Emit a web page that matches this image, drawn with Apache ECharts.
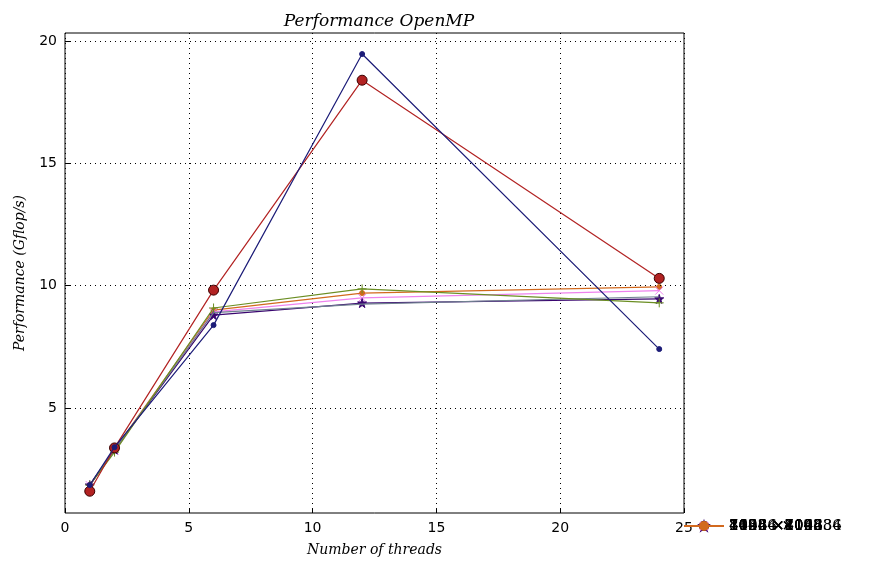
<!DOCTYPE html>
<html><head><meta charset="utf-8">
<script src="https://cdn.jsdelivr.net/npm/echarts@6/dist/echarts.min.js"></script>
<style>html,body{margin:0;background:#fff}#c{width:894px;height:570px}</style>
</head><body><div id="c"></div>
<script>
var threads = [1, 2, 6, 12, 24];
var names = ['1024 ×1024', '2048 ×2048', '4096 ×4096', '7168 ×7168', '8192 ×8192', '14336 ×14336', '16384 ×16384'];
var perf1024 = [1.85, 3.4, 8.39, 19.47, 7.41];
var perf2048 = [1.6, 3.37, 9.82, 18.4, 10.3];
var perf4096 = [1.85, 3.2, 9.09, 9.87, 9.3];
var perf7168 = [1.85, 3.3, 8.9, 9.25, 9.55];
var perf8192 = [1.85, 3.3, 8.8, 9.29, 9.46];
var perf14336 = [1.85, 3.25, 8.93, 9.5, 9.8];
var perf16384 = [1.85, 3.3, 9.0, 9.7, 9.95];
var yTicks = [5, 10, 15, 20];

var colors = ['#1c1c78', '#b22222', '#6b8e23', '#708090', '#3a0670', '#ee82ee', '#d2691e'];
var symbols = ['circle', 'circle', 'path://M0,5H10M5,0V10', 'path://M0,5H10', 'path://M5,0L6.2,3.6L10,3.6L6.9,5.9L8.1,9.5L5,7.3L1.9,9.5L3.1,5.9L0,3.6L3.8,3.6Z', 'path://M0,0L10,10M10,0L0,10', 'circle'];
var sizes = [5, 10, 9, 9, 9, 8, 5];
var all = [perf1024, perf2048, perf4096, perf7168, perf8192, perf14336, perf16384];

var myChart = echarts.init(document.getElementById('c'));
var series = all.map(function (vals, i) {
    var s = {
        name: names[i],
        type: 'line',
        data: threads.map(function (t, j) { return [t, vals[j]]; }),
        symbol: symbols[i],
        symbolSize: sizes[i],
        showSymbol: true,
        color: colors[i],
        lineStyle: { width: 1.2, color: colors[i] },
        itemStyle: { color: colors[i], borderColor: i == 1 ? '#3a0000' : colors[i], borderWidth: 1 },
        z: 10 - i,
        animation: false
    };
    if (i == 0) {
        s.markLine = {
            symbol: 'none', silent: true, label: { show: false }, animation: false,
            lineStyle: { type: [1, 4], color: '#000', width: 1 },
            data: yTicks.map(function (v) { return { yAxis: v }; })
        };
    }
    return s;
});
var font = 'DejaVu Serif';
option = {
    backgroundColor: '#fff',
    title: {
        text: 'Performance OpenMP', left: 374, top: 8, textAlign: 'center',
        textStyle: { fontFamily: font, fontStyle: 'italic', fontWeight: 'normal', fontSize: 17, color: '#000' }
    },
    grid: { left: 65, right: 210, top: 33, bottom: 57, show: true, borderColor: '#000', borderWidth: 1 },
    legend: {
        orient: 'vertical', left: 694, top: 168, width: 190, height: 200, itemGap: 11, itemWidth: 40, itemHeight: 10,
        padding: [8, 8, 8, 8], borderColor: '#000', borderWidth: 1,
        textStyle: { fontFamily: font, fontSize: 15, color: '#000' },
        data: names
    },
    xAxis: {
        type: 'value', min: 0, max: 25, interval: 5,
        name: 'Number of threads', nameLocation: 'middle', nameGap: 30,
        nameTextStyle: { fontFamily: font, fontStyle: 'italic', fontSize: 14, color: '#000' },
        axisLine: { show: false }, axisTick: { inside: true, length: 5, lineStyle: { color: '#000' } },
        axisLabel: { color: '#000', fontSize: 14, fontFamily: 'DejaVu Sans' },
        splitLine: { show: true, lineStyle: { type: [1, 4], color: '#000' } }
    },
    yAxis: {
        type: 'value', min: 0.71, max: 20.33,
        name: 'Performance (Gflop/s)', nameLocation: 'middle', nameGap: 38,
        nameTextStyle: { fontFamily: font, fontStyle: 'italic', fontSize: 14, color: '#000' },
        axisLine: { show: false },
        axisTick: { inside: true, length: 5, customValues: yTicks, lineStyle: { color: '#000' } },
        axisLabel: { color: '#000', fontSize: 14, fontFamily: 'DejaVu Sans', customValues: yTicks },
        splitLine: { show: false }
    },
    series: series
};
myChart.setOption(option, true);
</script></body></html>
